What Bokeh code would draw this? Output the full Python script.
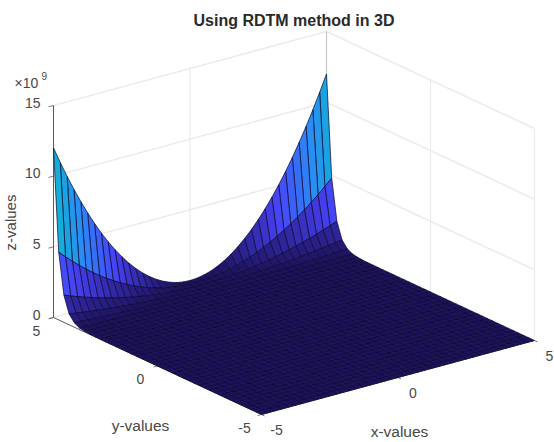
from bokeh.plotting import figure
from bokeh.embed import file_html
from bokeh.resources import INLINE
from bokeh.models import ColumnDataSource, LinearColorMapper
from bokeh.core.properties import value
import numpy as np

# ---- data -----------------------------------------------------------------
x_vals = [-5.0,-4.75,-4.5,-4.25,-4.0,-3.75,-3.5,-3.25,-3.0,-2.75,-2.5,-2.25,-2.0,-1.75,-1.5,-1.25,-1.0,-0.75,-0.5,-0.25,
          0.0,0.25,0.5,0.75,1.0,1.25,1.5,1.75,2.0,2.25,2.5,2.75,3.0,3.25,3.5,3.75,4.0,4.25,4.5,4.75,5.0]
y_vals = [5.0,4.75,4.5,4.25,4.0,3.75,3.5,3.25,3.0,2.75,2.5,2.25,2.0,1.75,1.5,1.25,1.0,0.75,0.5,0.25,
          0.0,-0.25,-0.5,-0.75,-1.0,-1.25,-1.5,-1.75,-2.0,-2.25,-2.5,-2.75,-3.0,-3.25,-3.5,-3.75,-4.0,-4.25,-4.5,-4.75,-5.0]
# height of the surface along its y=5 edge, in units of 1e9
edge_z = [12.0,10.83,9.72,8.67,7.68,6.75,5.88,5.07,4.32,3.63,3.0,2.43,1.92,1.47,1.08,0.75,0.48,0.27,0.12,0.03,
          0.0,0.03,0.12,0.27,0.48,0.75,1.08,1.47,1.92,2.43,3.0,3.63,4.32,5.07,5.88,6.75,7.68,8.67,9.72,10.83,12.0]
# share of that height left at each y row
row_share = [1.0,0.40,0.16,0.064,0.026,0.010,0.004,0.0016,0.0006,0.0002] + [0.0]*31
z_ticks = [0,5,10,15]
z_tick_labels = ["0","5","10","15"]
xy_ticks = [-5,0,5]
xy_tick_labels = ["-5","0","5"]
title = "Using RDTM method in 3D"

# colour map anchors
anchors = [(.115,.07,.36),(.2810,.2528,.9579),(.1786,.5289,.9682),(.0689,.6948,.8394),(.2161,.7843,.5923),
           (.6720,.7793,.2227),(.9970,.7659,.2199),(.9892,.8500,.1900),(.9769,.9839,.0805)]
t = np.linspace(0,1,256); pos = np.linspace(0,1,len(anchors)); a = np.array(anchors)
palette = ["#%02x%02x%02x" % tuple(int(round(255*np.interp(u,pos,a[:,k]))) for k in range(3)) for u in t]

# orthographic view of the axes box
O = np.array([261.0,414.0])          # x=-5,y=-5
EX = np.array([273.0,-74.0])/10      # per unit x
EY = np.array([-208.0,-97.0])/10     # per unit y
EZ = 212.0/15                        # per 1e9
def proj(x,y,z):
    x=np.asarray(x,float); y=np.asarray(y,float); z=np.asarray(z,float)
    return O[0]+(x+5)*EX[0]+(y+5)*EY[0], O[1]+(x+5)*EX[1]+(y+5)*EY[1]-z*EZ

W,H = 554,442
p = figure(width=W,height=H,x_range=(0,W),y_range=(H,0),output_backend="svg",toolbar_location=None,
           min_border=0,outline_line_color=None)
p.axis.visible=False; p.grid.visible=False
p.background_fill_color="white"

GRID="#ececec"; AX="#5a5a5a"; TXT="#484848"
def seg(a_,b_,c,w=1.0):
    xs,ys=proj(*zip(a_,b_)); p.line(xs,ys,line_color=c,line_width=w)

# walls
for z in z_ticks[1:]:
    seg((-5,5,z),(5,5,z),GRID,1.6); seg((5,5,z),(5,-5,z),GRID,1.6)
for v in [-5,0,5]:
    seg((v,5,0),(v,5,15),GRID,1.2)
    seg((5,v,0),(5,v,15),GRID,1.2)
seg((-5,5,0),(5,5,0),GRID,1.4); seg((5,5,0),(5,-5,0),GRID,1.4)
seg((5,5,12),(5,5,15),"#c4c4c4",1.0)

# axes
seg((-5,5,0),(-5,5,15),AX,1.0)
seg((-5,5,0),(-5,-5,0),AX,1.0)
seg((-5,-5,0),(5,-5,0),AX,1.0)
for z in z_ticks:
    xs,ys=proj(-5,5,z); p.line([xs,xs-5],[ys,ys+1.3],line_color=AX,line_width=.8)
for v in xy_ticks:
    xs,ys=proj(-5,v,0); p.line([xs,xs-4],[ys,ys+1],line_color=AX,line_width=.8)
    xs,ys=proj(v,-5,0); p.line([xs,xs+3],[ys,ys+1.5],line_color=AX,line_width=.8)

# surface, far faces first
Z = np.outer(row_share,edge_z)
pxs,pys,cs=[],[],[]
nx,ny=len(x_vals),len(y_vals)
for j in range(ny-1):
    for i in range(nx-2,-1,-1):
        X=[x_vals[i],x_vals[i+1],x_vals[i+1],x_vals[i]]
        Y=[y_vals[j],y_vals[j],y_vals[j+1],y_vals[j+1]]
        ZZ=[Z[j,i],Z[j,i+1],Z[j+1,i+1],Z[j+1,i]]
        a1,b1=proj(X,Y,ZZ)
        pxs.append(a1.tolist()); pys.append(b1.tolist()); cs.append(float(Z[j+1,i]))
src=ColumnDataSource(dict(xs=pxs,ys=pys,c=cs))
mapper=LinearColorMapper(palette=palette,low=0,high=13)
p.patches("xs","ys",source=src,fill_color={"field":"c","transform":mapper},line_color="#0b0a35",line_width=0.8,line_alpha=0.9)

# texts
def txt(x,y,s,size,align="center",angle=0,style="normal",color=TXT,base="middle"):
    p.text([x],[y],text=[s],text_font=value("Liberation Sans"),text_font_size=f"{size}px",text_align=align,
           text_baseline=base,angle=angle,text_color=color,text_font_style=style)
txt(293.5,20,title,16,style="bold",color="#2a2a2a")
for z,l in zip(z_ticks,z_tick_labels):
    xx,yy=proj(-5,5,z); txt(xx-13,yy-3,l,14,align="right")
txt(14,82,"×10",14,align="left"); txt(41,75,"9",10,align="left")
txt(10,222,"z-values",15,angle=np.pi/2)
for v,l in zip(xy_ticks,xy_tick_labels):
    xx,yy=proj(-5,v,0); txt(xx-17,yy+13,l,14)
    xx,yy=proj(v,-5,0); txt(xx+15,yy+15,l,14)
txt(140,425,"y-values",15.5)
txt(399,431,"x-values",15.5)

open("out.html","w").write(file_html(p,INLINE))
